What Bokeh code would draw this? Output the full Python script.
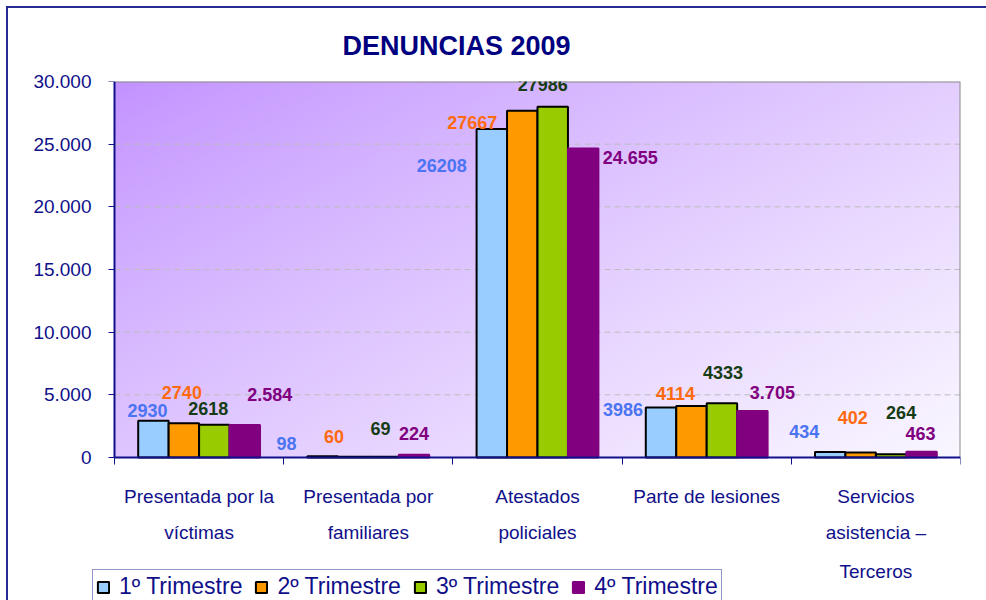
import numpy as np
from bokeh.plotting import figure
from bokeh.models import (Range1d, FixedTicker, LinearAxis, Legend, LegendItem,
                          ColumnDataSource, Title)
from bokeh.embed import file_html
from bokeh.resources import INLINE
from bokeh.core.properties import value

# ---------------- data ----------------
cat_line1 = ["Presentada por la", "Presentada por", "Atestados", "Parte de lesiones", "Servicios"]
cat_line2 = ["víctimas", "familiares", "policiales", "", "asistencia –\nTerceros"]
series_names = ["1º Trimestre", "2º Trimestre", "3º Trimestre", "4º Trimestre"]
q1 = [2930, 98, 26208, 3986, 434]
q2 = [2740, 60, 27667, 4114, 402]
q3 = [2618, 69, 27986, 4333, 264]
q4 = [2584, 224, 24655, 3705, 463]
y_ticks = [0, 5000, 10000, 15000, 20000, 25000, 30000]
y_tick_labels = ["0", "5.000", "10.000", "15.000", "20.000", "25.000", "30.000"]
title_text = "DENUNCIAS 2009"

# ---------------- styles / layout ----------------
FONT = "Liberation Sans"
NAVY = "#10108A"
bar_fill = ["#99CCFF", "#FF9900", "#99CC00", "#800080"]
bar_line = ["#000000", "#000000", "#000000", "#800080"]
label_color = ["#4A74F2", "#FF6A10", "#163C14", "#800080"]
thousands_dot = [False, False, False, True]
dodge_off = [-0.27, -0.09, 0.09, 0.27]
bar_w = 0.18
lbl_dx = [[-6, -36, -50, -38, -26],
          [-2, -19, -50, -16, -8],
          [-6, -3, -10, 1, 10],
          [25, 0, 47, 20, -1]]
lbl_dy = [[-10, -13, 36, 2, -21],
          [-31, -20, 12, -12, -35],
          [-16, -28, -22, -31, -42],
          [-31, -21, 9, -19, -18]]

series = [q1, q2, q3, q4]
n = len(cat_line1)
group_x = [i + 0.5 for i in range(n)]
x_lo, x_hi = 0, n
y_lo, y_hi = y_ticks[0], y_ticks[-1]

# plot-area geometry in pixels; the frame is extended left and down so the
# legend (which sits below the axis) is drawn inside it
PLOT_W, PLOT_H = 846, 376
EXT_LEFT, EXT_BOTTOM = 22, 143
px_per_x = PLOT_W / (x_hi - x_lo)
px_per_y = PLOT_H / (y_hi - y_lo)

p = figure(x_range=Range1d(x_lo - EXT_LEFT / px_per_x, x_hi),
           y_range=Range1d(y_lo - EXT_BOTTOM / px_per_y, y_hi),
           frame_width=PLOT_W + EXT_LEFT, frame_height=PLOT_H + EXT_BOTTOM,
           min_border_left=84, min_border_right=26, min_border_top=73, min_border_bottom=0,
           output_backend="svg", toolbar_location=None,
           x_axis_type=None, y_axis_type=None)
p.styles = {"margin-left": "6px", "margin-top": "6px",
            "border-left": "2px solid #262B90", "border-top": "2px solid #262B90"}
p.background_fill_color = "white"
p.border_fill_color = "white"
p.outline_line_color = None

# gradient background of the plot area
ny, nx = 94, 212
yy, xx = np.mgrid[0:ny, 0:nx]
xf = xx / (nx - 1)
ydown = 1 - yy / (ny - 1)
d = np.clip((xf * 0.55 + ydown * 0.45), 0, 1) ** 0.85
c0 = np.array([194, 146, 255], dtype=float)
c1 = np.array([250, 247, 255], dtype=float)
img = np.empty((ny, nx), dtype=np.uint32)
view = img.view(dtype=np.uint8).reshape((ny, nx, 4))
for k in range(3):
    view[:, :, k] = (c0[k] + (c1[k] - c0[k]) * d).astype(np.uint8)
view[:, :, 3] = 255
p.image_rgba(image=[img], x=x_lo, y=y_lo, dw=x_hi - x_lo, dh=y_hi - y_lo, level="image")

# dashed gridlines (only across the plot area)
gy = y_ticks[1:-1]
p.segment(x0=[x_lo] * len(gy), y0=gy, x1=[x_hi] * len(gy), y1=gy,
          line_color="#BDBDBD", line_dash="6 4", line_width=1)

# bars
renderers = []
for s, vals in enumerate(series):
    src = ColumnDataSource(dict(x=[g + dodge_off[s] for g in group_x], top=vals))
    r = p.vbar(x="x", top="top", width=bar_w, bottom=0, source=src,
               fill_color=bar_fill[s], line_color=bar_line[s], line_width=2)
    renderers.append(r)

# grey top / right border of the plot area
p.segment(x0=[x_lo, x_hi], y0=[y_hi, y_lo], x1=[x_hi, x_hi], y1=[y_hi, y_hi],
          line_color="#8C8C8C", line_width=2)

# data labels
for s, vals in enumerate(series):
    if thousands_dot[s]:
        txt = [f"{v:,}".replace(",", ".") for v in vals]
    else:
        txt = [str(v) for v in vals]
    src = ColumnDataSource(dict(x=[g + dodge_off[s] for g in group_x], y=vals, t=txt,
                                dx=lbl_dx[s], dy=lbl_dy[s]))
    p.text(x="x", y="y", text="t", x_offset="dx", y_offset="dy", source=src,
           text_color=label_color[s], text_font=value(FONT), text_font_style="bold",
           text_font_size="18px", text_align="center", text_baseline="middle")

# y tick labels (axis at the frame edge, labels only)
ylabels = LinearAxis(ticker=FixedTicker(ticks=y_ticks),
                     major_label_overrides={t: l for t, l in zip(y_ticks, y_tick_labels)},
                     axis_line_color=None, major_tick_line_color=None,
                     major_tick_out=0, major_tick_in=0, minor_tick_line_color=None,
                     major_label_text_font=FONT, major_label_text_font_size="19px",
                     major_label_text_color=NAVY, major_label_standoff=1)
p.add_layout(ylabels, "left")

# y axis line and ticks, pinned at x = 0
yline = LinearAxis(ticker=FixedTicker(ticks=y_ticks), fixed_location=x_lo, bounds=(y_lo, y_hi),
                   major_label_overrides={t: "" for t in y_ticks},
                   axis_line_color=NAVY, axis_line_width=2,
                   major_tick_line_color=NAVY, major_tick_out=6, major_tick_in=0,
                   minor_tick_line_color=None, major_label_standoff=0,
                   major_label_text_font_size="1px")
p.add_layout(yline, "left")

# x axes pinned at y = 0 (category labels in two rows)
def cat_axis(labels, standoff, first=False):
    ax = LinearAxis(ticker=FixedTicker(ticks=group_x,
                                       minor_ticks=list(range(x_lo, x_hi + 1)) if first else []),
                    fixed_location=y_lo, bounds=(x_lo, x_hi),
                    major_label_overrides={t: l for t, l in zip(group_x, labels)},
                    major_tick_out=0, major_tick_in=0, major_tick_line_color=None,
                    major_label_text_font=FONT, major_label_text_font_size="19px",
                    major_label_text_color=NAVY, major_label_standoff=standoff,
                    major_label_text_line_height=1.9)
    if first:
        ax.axis_line_color = NAVY
        ax.axis_line_width = 2
        ax.minor_tick_line_color = NAVY
        ax.minor_tick_out = 7
        ax.minor_tick_in = 0
    else:
        ax.axis_line_color = None
        ax.minor_tick_line_color = None
        ax.minor_tick_out = 0
    return ax

p.add_layout(cat_axis(cat_line1, 21, first=True), "below")
p.add_layout(cat_axis(cat_line2, 64), "below")

# legend inside the (extended) frame, below the category labels
legend = Legend(items=[LegendItem(label=nm, renderers=[r]) for nm, r in zip(series_names, renderers)],
                location=(0, -4), orientation="horizontal",
                label_text_font=FONT, label_text_font_size="23px", label_text_color=NAVY,
                glyph_width=14, glyph_height=14, label_standoff=9, spacing=12,
                padding=3, margin=0, border_line_color="#262B90", border_line_width=1,
                background_fill_color="white", background_fill_alpha=1)
p.add_layout(legend, "center")

# title
p.title = Title(text=title_text, align="left", offset=250, text_font=FONT,
                text_font_size="27px", text_font_style="bold", text_color="#000080",
                standoff=41)

open("out.html", "w").write(file_html(p, INLINE))
